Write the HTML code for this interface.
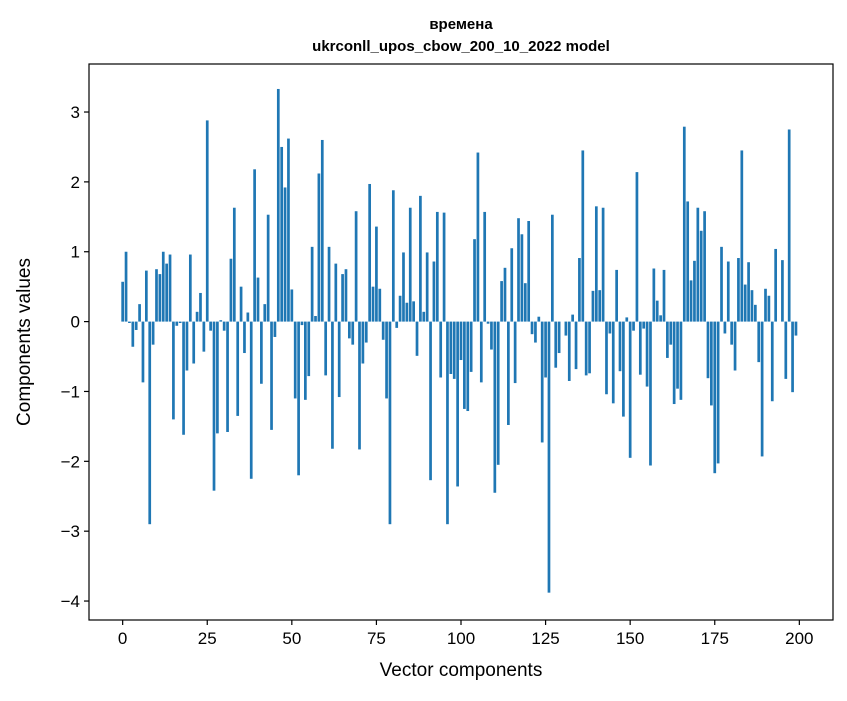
<!DOCTYPE html>
<html><head><meta charset="utf-8"><style>
body{margin:0;background:#fff;}
svg text{font-family:"Liberation Sans","DejaVu Sans",sans-serif;fill:#000;}
</style></head><body>
<svg id="chart" width="847" height="696" xmlns="http://www.w3.org/2000/svg">
<rect width="847" height="696" fill="#fff"/>
<g id="bars"></g>
<g id="axes"></g>
<text x="461" y="29" text-anchor="middle" font-size="15" font-weight="bold">времена</text>
<text x="461" y="51" text-anchor="middle" font-size="15" font-weight="bold">ukrconll_upos_cbow_200_10_2022 model</text>
<text x="461" y="676" text-anchor="middle" font-size="19">Vector components</text>
<text transform="translate(30,342) rotate(-90)" text-anchor="middle" font-size="19">Components values</text>
</svg>
<script>
const values=[0.57,1.0,-0.02,-0.36,-0.12,0.25,-0.87,0.73,-2.9,-0.33,0.75,0.68,1.0,0.83,0.96,-1.4,-0.06,-0.02,-1.62,-0.7,0.96,-0.6,0.14,0.41,-0.43,2.88,-0.13,-2.42,-1.6,0.02,-0.13,-1.58,0.9,1.63,-1.35,0.5,-0.45,0.13,-2.25,2.18,0.63,-0.89,0.25,1.53,-1.55,-0.22,3.33,2.5,1.92,2.62,0.46,-1.1,-2.2,-0.05,-1.12,-0.78,1.07,0.08,2.12,2.6,-0.77,1.07,-1.82,0.83,-1.08,0.68,0.75,-0.24,-0.33,1.58,-1.83,-0.6,-0.3,1.97,0.5,1.36,0.47,-0.26,-1.1,-2.9,1.88,-0.09,0.37,0.99,0.27,1.63,0.29,-0.49,1.8,0.14,0.99,-2.27,0.86,1.57,-0.8,1.56,-2.9,-0.75,-0.82,-2.36,-0.55,-1.25,-1.28,-0.72,1.18,2.42,-0.87,1.57,-0.03,-0.4,-2.45,-2.05,0.58,0.77,-1.48,1.05,-0.88,1.48,1.25,0.55,1.44,-0.18,-0.3,0.07,-1.73,-0.8,-3.88,1.53,-0.66,-0.45,0.0,-0.2,-0.85,0.1,-0.68,0.91,2.45,-0.77,-0.74,0.44,1.65,0.45,1.63,-1.04,-0.17,-1.17,0.74,-0.71,-1.36,0.06,-1.95,-0.13,2.14,-0.76,-0.1,-0.93,-2.06,0.76,0.3,0.09,0.74,-0.52,-0.33,-1.18,-0.96,-1.12,2.79,1.72,0.59,0.87,1.63,1.3,1.58,-0.81,-1.2,-2.17,-2.03,1.07,-0.17,0.86,-0.33,-0.7,0.91,2.45,0.53,0.85,0.45,0.24,-0.58,-1.93,0.47,0.37,-1.14,1.04,0.0,0.88,-0.82,2.75,-1.01,-0.2];
const xTicks=[0,25,50,75,100,125,150,175,200];
const yTicks=[-4,-3,-2,-1,0,1,2,3];
const L=89,R=833,T=64,B=620;
const x=v=>L+(v+9.95)/(209.95+9.95)*(R-L);
const y=v=>321.6-v*69.86;
const NS="http://www.w3.org/2000/svg";
const bars=document.getElementById('bars'),axes=document.getElementById('axes');
function mk(tag,attrs,parent){const e=document.createElementNS(NS,tag);for(const k in attrs)e.setAttribute(k,attrs[k]);parent.appendChild(e);return e;}
values.forEach((v,i)=>{
 const r=mk('rect',{x:x(i-0.4),width:x(i+0.4)-x(i-0.4),y:Math.min(y(v),y(0)),height:Math.max(Math.abs(y(v)-y(0)),0.01),fill:'#1f77b4'},bars);
 
 
});
const frame=mk('rect',{x:L,y:T,width:R-L,height:B-T,fill:'none',stroke:'#000','stroke-width':1.2},axes);


xTicks.forEach(t=>{
 const tk=mk('line',{x1:x(t),x2:x(t),y1:B,y2:B+5,stroke:'#000','stroke-width':1.2},axes);
 
 
 const tx=mk('text',{x:x(t),y:B+24,'text-anchor':'middle','font-size':17},axes);
 tx.textContent=t;
 
 
});
yTicks.forEach(t=>{
 const tk=mk('line',{x1:L-5,x2:L,y1:y(t),y2:y(t),stroke:'#000','stroke-width':1.2},axes);
 
 
 const tx=mk('text',{x:L-9,y:y(t)+6,'text-anchor':'end','font-size':17},axes);
 tx.textContent=(t<0?'\u2212'+(-t):t);
 
 
});
</script>
</body></html>
